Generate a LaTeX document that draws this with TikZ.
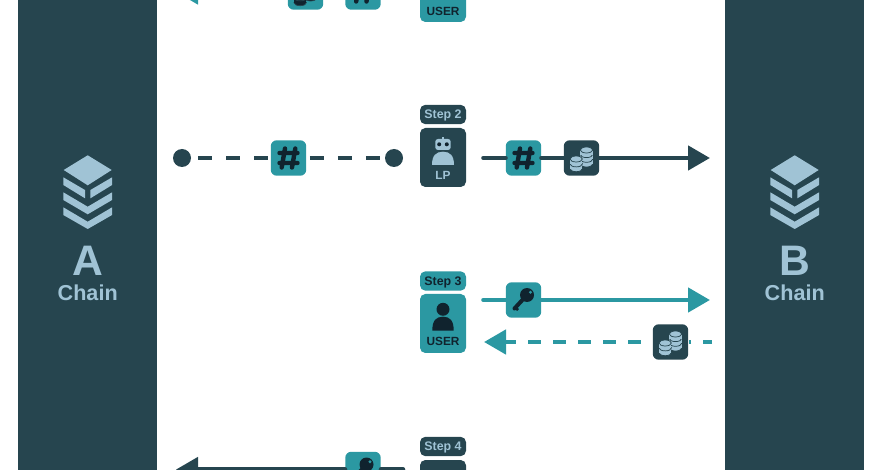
\documentclass[tikz,border=0pt]{standalone}
\usepackage{fontspec}
\setmainfont{Liberation Sans}
\usetikzlibrary{arrows.meta, positioning}

\definecolor{panelDark}{HTML}{26454F}
\definecolor{tealBox}{HTML}{2B98A2}
\definecolor{paleBlue}{HTML}{A0C3D5}
\definecolor{inkDark}{HTML}{10232E}

\tikzset{
  chainpanel/.style={fill=panelDark, inner sep=0pt, minimum width=104.25pt, minimum height=352.5pt},
  chainletter/.style={anchor=base, text=paleBlue, font=\bfseries\fontsize{32}{34}\selectfont, inner sep=0pt},
  chainword/.style={anchor=base, text=paleBlue, font=\bfseries\fontsize{16.2}{17}\selectfont, inner sep=0pt},
  steptag/.style={rounded corners=4pt, inner sep=0pt, minimum width=34.5pt, minimum height=14.5pt,
    text height=6.7pt, text depth=0pt, font=\bfseries\fontsize{9.3}{10}\selectfont},
  actorbox/.style={rounded corners=4pt, inner sep=0pt, minimum width=34.5pt, minimum height=44.25pt},
  actorword/.style={anchor=base, inner sep=0pt, font=\bfseries\fontsize{8.9}{10}\selectfont},
  iconbox/.style={rounded corners=4.5pt, inner sep=0pt, minimum size=26.6pt},
  enddot/.style={circle, fill=panelDark, inner sep=0pt, minimum size=13.5pt},
  flowline/.style={line width=3.5pt, line cap=round},
  flowhead/.style={flowline, -{Triangle[length=16.5pt,width=18pt]}},
  hashicon/.pic={
    \draw[inkDark, line width=3.3pt, line cap=round] (-3.5,-9.5) -- (-6.8,9.5) (6.8,-9.5) -- (3.5,9.5)
      (-9,-5) -- (9,-5) (-9,5) -- (9,5);
  },
  coinicon/.pic={
    \draw[fill=#1, draw=panelDark, line width=.55pt] (5,6) ellipse [x radius=6.2,y radius=3];
    \foreach \y in {1.3,-3.4,-8} {
      \fill[#1] (-1.2,\y) rectangle (11.2,\y+4.7);
      \draw[fill=#1, draw=panelDark, line width=.55pt] (5,\y) ellipse [x radius=6.2,y radius=3];
    }
    \draw[fill=#1, draw=panelDark, line width=.55pt] (-5.3,10.7) ellipse [x radius=6.2,y radius=3];
    \foreach \y in {5.9,1} {
      \fill[#1] (-11.5,\y) rectangle (0.9,\y+4.8);
      \draw[fill=#1, draw=panelDark, line width=.55pt] (-5.3,\y) ellipse [x radius=6.2,y radius=3];
    }
  },
  keyicon/.pic={
    \draw[inkDark, line width=3pt, line cap=round] (3.5,-5) -- (-9,8.5);
    \draw[inkDark, line width=2pt] (-8,7.5) -- (-5.5,10);
    \fill[inkDark] (3.5,-5) circle (7);
    \fill[tealBox] (7,-7.7) circle (1.6);
  },
  usericon/.pic={
    \fill[inkDark] (0,-14.2) circle (6.5);
    \fill[inkDark] (-10.7,7.2) .. controls (-10.7,-3) and (-7,-6.8) .. (0,-6.8)
      .. controls (7,-6.8) and (10.7,-3) .. (10.7,7.2) -- cycle;
  },
  roboticon/.pic={
    \fill[paleBlue] (-1,-20) rectangle (1,-18);
    \fill[paleBlue, rounded corners=2pt] (-7.7,-18.5) rectangle (7.7,-7.5);
    \fill[inkDark] (-3.8,-13.2) circle (2) (3.8,-13.2) circle (2);
    \fill[paleBlue] (-11,7.5) .. controls (-11,-2) and (-7,-5.8) .. (0,-5.8)
      .. controls (7,-5.8) and (11,-2) .. (11,7.5) -- cycle;
  },
  stackicon/.pic={
    \fill[paleBlue] (0,0) -- (24,14.7) -- (0,30) -- (-24,14.7) -- cycle;
    \fill[paleBlue] (-24.4,22) -- (-2.7,34.7) -- (-2.7,43) -- (-24.4,29.7) -- cycle;
    \fill[paleBlue] (24.4,22) -- (2.7,34.7) -- (2.7,43) -- (24.4,29.7) -- cycle;
    \fill[paleBlue] (-24.4,37) -- (0,51.4) -- (24.4,37) -- (24.4,44.7) -- (0,59) -- (-24.4,44.7) -- cycle;
    \fill[paleBlue] (-24.4,52) -- (0,66.4) -- (24.4,52) -- (24.4,59.7) -- (0,73.7) -- (-24.4,59.7) -- cycle;
  }
}

\begin{document}
\begin{tikzpicture}[x=0.75pt,y=-0.75pt]

\useasboundingbox (0,0) rectangle (882,470);
\clip (0,0) rectangle (882,470);

% side panels
\node[chainpanel] (panelA) at (87.5,235) {};
\node[chainpanel] (panelB) at (794.5,235) {};

\pic at (87.7,155.3) {stackicon};
\pic at (794.7,155.3) {stackicon};

\node[chainletter] (letterA) at (87.7,276) {A};
\node[chainword] (wordA) at (87.7,301) {Chain};
\node[chainletter] (letterB) at (794.7,276) {B};
\node[chainword] (wordB) at (794.7,301) {Chain};

% step 1
\node[actorbox, fill=tealBox] (actor1) at (443,-7.5) {};
\node[actorword, text=inkDark] (actor1word) at (443,15.5) {USER};
\node[iconbox, fill=tealBox] (coin1) at (305.5,-8) {};
\pic at (coin1) {coinicon=inkDark};
\node[iconbox, fill=tealBox] (hash1) at (363,-8) {};
\pic at (hash1) {hashicon};
\coordinate (tip1) at (176,-8);
\draw[flowhead, tealBox] (coin1) -- (tip1);

% step 2
\node[steptag, fill=panelDark, text=paleBlue] (tag2) at (443,114.5) {Step 2};
\node[actorbox, fill=panelDark] (actor2) at (443,157.5) {};
\pic at (actor2) {roboticon};
\node[actorword, text=paleBlue] (actor2word) at (443,180) {LP};

\node[enddot] (dotL) at (182,158) {};
\node[enddot] (dotR) at (394,158) {};
\node[iconbox, fill=tealBox] (hash2L) at (288.5,158) {};
\pic at (hash2L) {hashicon};
\draw[panelDark, line width=3.5pt, dash pattern=on 10.5pt off 10.5pt, dash phase=15.75pt] (dotL) -- (hash2L);
\draw[panelDark, line width=3.5pt, dash pattern=on 10.5pt off 10.5pt, dash phase=18.4pt] (hash2L) -- (dotR);

\coordinate (start2) at (483.5,158);
\coordinate (tip2) at (710,158);
\node[iconbox, fill=tealBox] (hash2R) at (523.5,158) {};
\pic at (hash2R) {hashicon};
\node[iconbox, fill=panelDark] (coin2) at (581.5,158) {};
\pic at (coin2) {coinicon=paleBlue};
\draw[flowline, panelDark] (start2) -- (hash2R);
\draw[flowline, panelDark] (hash2R) -- (coin2);
\draw[flowhead, panelDark] (coin2) -- (tip2);

% step 3
\node[steptag, fill=tealBox, text=inkDark] (tag3) at (443,281) {Step 3};
\node[actorbox, fill=tealBox] (actor3) at (443,323.5) {};
\pic at (actor3) {usericon};
\node[actorword, text=inkDark] (actor3word) at (443,346) {USER};

\coordinate (start3) at (483.5,300);
\coordinate (tip3) at (710,300);
\node[iconbox, fill=tealBox] (key3) at (523.5,300) {};
\pic at (key3) {keyicon};
\draw[flowline, tealBox] (start3) -- (key3);
\draw[flowhead, tealBox] (key3) -- (tip3);

\coordinate (start3b) at (712,342);
\coordinate (tip3b) at (484,342);
\node[iconbox, fill=panelDark] (coin3) at (670.5,342) {};
\pic at (coin3) {coinicon=paleBlue};
\draw[tealBox, line width=3.5pt, dash pattern=on 9.75pt off 9pt, dash phase=3pt] (start3b) -- (coin3);
\draw[tealBox, line width=3.5pt, dash pattern=on 9.75pt off 9pt, dash phase=9.75pt,
  -{Triangle[length=16.5pt,width=18pt]}] (coin3) -- (tip3b);

% step 4
\node[steptag, fill=panelDark, text=paleBlue] (tag4) at (443,446.5) {Step 4};
\node[actorbox, fill=panelDark] (actor4) at (443,489.5) {};
\pic at (actor4) {roboticon};

\coordinate (start4) at (403,469.5);
\coordinate (tip4) at (176,469.5);
\node[iconbox, fill=tealBox] (key4) at (363,469.5) {};
\pic at (key4) {keyicon};
\draw[flowline, panelDark] (start4) -- (key4);
\draw[flowhead, panelDark] (key4) -- (tip4);

\end{tikzpicture}
\end{document}
